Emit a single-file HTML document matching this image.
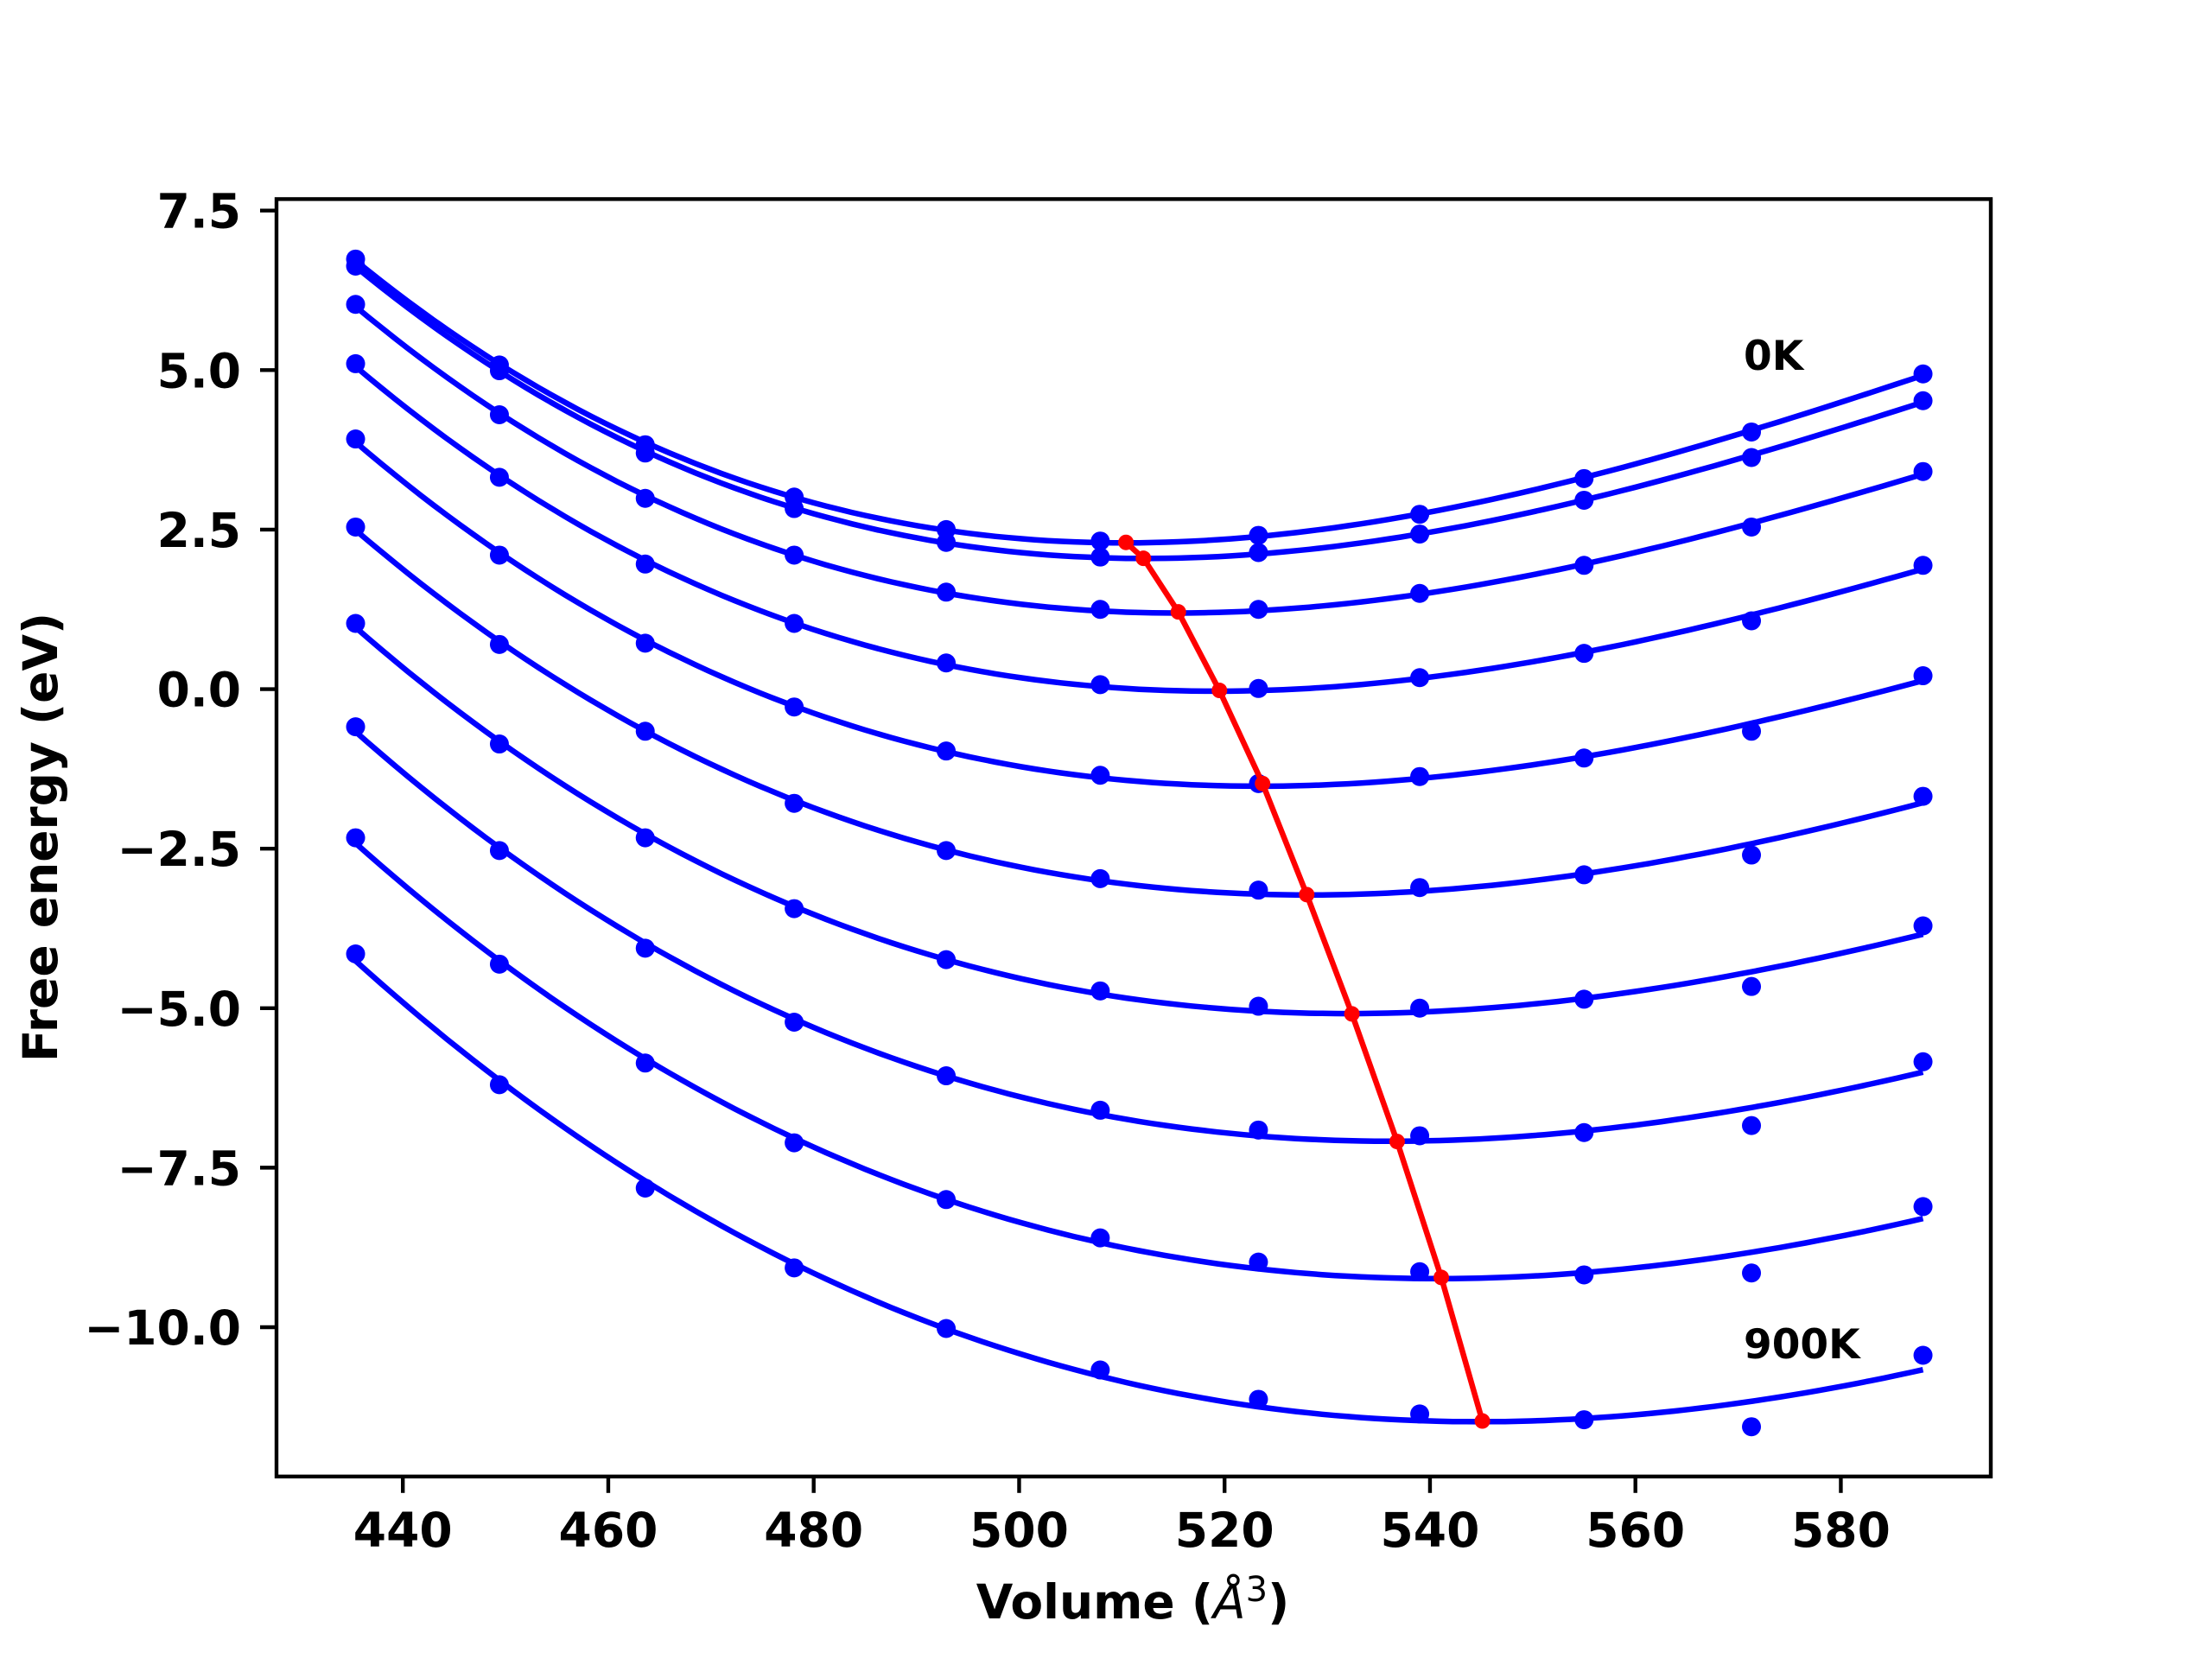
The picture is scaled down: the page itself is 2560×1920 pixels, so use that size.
<!DOCTYPE html>
<html><head><meta charset="utf-8"><style>
html,body{margin:0;padding:0;background:#fff;}
svg{display:block;}
text{font-family:"DejaVu Sans","Liberation Sans",sans-serif;font-weight:bold;fill:#000;}
</style></head><body>
<svg id="chart" width="2560" height="1920" viewBox="0 0 2560 1920" xmlns="http://www.w3.org/2000/svg">
<g id="plot"></g>
</svg>
<script>
const volumes = [435.4, 449.4, 463.6, 478.1, 492.9, 507.9, 523.3, 539.0, 555.0, 571.3, 588.0];
const energy0 = [6.74, 5.08, 3.83, 3.01, 2.50, 2.32, 2.41, 2.74, 3.30, 4.03, 4.94];
const energy1 = [6.63, 4.99, 3.70, 2.83, 2.30, 2.07, 2.14, 2.43, 2.96, 3.63, 4.52];
const energy2 = [6.03, 4.30, 2.99, 2.10, 1.52, 1.25, 1.25, 1.50, 1.94, 2.54, 3.41];
const energy3 = [5.10, 3.32, 1.96, 1.03, 0.41, 0.07, 0.01, 0.18, 0.56, 1.07, 1.94];
const energy4 = [3.92, 2.10, 0.72, -0.28, -0.97, -1.35, -1.48, -1.37, -1.08, -0.66, 0.21];
const energy5 = [2.54, 0.70, -0.66, -1.79, -2.53, -2.97, -3.15, -3.11, -2.91, -2.60, -1.68];
const energy6 = [1.03, -0.86, -2.33, -3.44, -4.24, -4.73, -4.97, -5.00, -4.86, -4.66, -3.71];
const energy7 = [-0.59, -2.53, -4.06, -5.22, -6.06, -6.60, -6.91, -7.00, -6.95, -6.84, -5.84];
const energy8 = [-2.33, -4.31, -5.86, -7.11, -8.00, -8.60, -8.98, -9.13, -9.18, -9.15, -8.11];
const energy9 = [-4.15, -6.20, -7.82, -9.07, -10.02, -10.67, -11.13, -11.36, -11.45, -11.56, -10.44];
const minVolumes = [510.4, 512.1, 515.5, 519.5, 523.7, 528.0, 532.4, 536.8, 541.1, 545.1];
const minEnergies = [2.30, 2.05, 1.21, -0.02, -1.48, -3.22, -5.09, -7.09, -9.22, -11.47];
const xTicks = [440, 460, 480, 500, 520, 540, 560, 580];
const yTicks = [7.5, 5.0, 2.5, 0.0, -2.5, -5.0, -7.5, -10.0];
const yTickLabels = ["7.5", "5.0", "2.5", "0.0", "\u22122.5", "\u22125.0", "\u22127.5", "\u221210.0"];

const series = [energy0, energy1, energy2, energy3, energy4, energy5, energy6, energy7, energy8, energy9];
const L = 320, R = 2304, T = 230.4, B = 1708.8;
const xMin = 427.7, xMax = 594.6, yMin = -12.34, yMax = 7.68;
const sx = v => L + (v - xMin) / (xMax - xMin) * (R - L);
const sy = v => B - (v - yMin) / (yMax - yMin) * (B - T);
const NS = "http://www.w3.org/2000/svg";
const plot = document.getElementById('plot');
function mk(tag, attrs, parent) {
  const e = document.createElementNS(NS, tag);
  for (const k in attrs) e.setAttribute(k, attrs[k]);
  (parent || plot).appendChild(e);
  return e;
}
// cubic least squares fit
function fit(xs, ys) {
  const x0 = 510, n = 4;
  const A = [], b = [];
  for (let i = 0; i < n; i++) { A.push(new Array(n).fill(0)); b.push(0); }
  xs.forEach((x, k) => {
    const t = (x - x0) / 50;
    const p = [1, t, t * t, t * t * t];
    for (let i = 0; i < n; i++) { b[i] += p[i] * ys[k]; for (let j = 0; j < n; j++) A[i][j] += p[i] * p[j]; }
  });
  for (let i = 0; i < n; i++) {
    let m = i; for (let r = i + 1; r < n; r++) if (Math.abs(A[r][i]) > Math.abs(A[m][i])) m = r;
    [A[i], A[m]] = [A[m], A[i]]; [b[i], b[m]] = [b[m], b[i]];
    for (let r = 0; r < n; r++) if (r !== i) { const f = A[r][i] / A[i][i]; for (let c = i; c < n; c++) A[r][c] -= f * A[i][c]; b[r] -= f * b[i]; }
  }
  const c = b.map((v, i) => v / A[i][i]);
  return x => { const t = (x - x0) / 50; return c[0] + c[1] * t + c[2] * t * t + c[3] * t * t * t; };
}
const clip = mk('clipPath', {id: 'clip'});
mk('rect', {x: L, y: T, width: R - L, height: B - T}, clip);
const g = mk('g', {'clip-path': 'url(#clip)'});


series.forEach((ys, si) => {
  const f = fit(volumes, ys);
  let d = '';
  const a = volumes[0], z = volumes[volumes.length - 1];
  for (let i = 0; i <= 120; i++) { const v = a + (z - a) * i / 120; d += (i ? 'L' : 'M') + sx(v).toFixed(1) + ',' + sy(f(v)).toFixed(1); }
  const p = mk('path', {d: d, fill: 'none', stroke: '#0000ff', 'stroke-width': 6.5}, g);
  
  
  ys.forEach((y, i) => {
    const c = mk('circle', {cx: sx(volumes[i]), cy: sy(y), r: 11, fill: '#0000ff'}, g);
    
    
  });
});
let rd = '';
minVolumes.forEach((v, i) => { rd += (i ? 'L' : 'M') + sx(v) + ',' + sy(minEnergies[i]); });
const red = mk('path', {d: rd, fill: 'none', stroke: '#ff0000', 'stroke-width': 6.5}, g);


minVolumes.forEach((v, i) => {
  const c = mk('circle', {cx: sx(v), cy: sy(minEnergies[i]), r: 9, fill: '#ff0000'}, g);
  
  
});
const frame = mk('rect', {x: L, y: T, width: R - L, height: B - T, fill: 'none', stroke: '#000', 'stroke-width': 4.4});


xTicks.forEach(v => {
  const x = sx(v);
  const t = mk('line', {x1: x, x2: x, y1: B, y2: B + 19, stroke: '#000', 'stroke-width': 4.4});
  
  
  const tx = mk('text', {x: x, y: 1790, 'text-anchor': 'middle', 'font-size': 55});
  tx.textContent = String(v);
  
  
});
yTicks.forEach((v, i) => {
  const y = sy(v);
  const t = mk('line', {x1: L - 19, x2: L, y1: y, y2: y, stroke: '#000', 'stroke-width': 4.4});
  
  
  const tx = mk('text', {x: 279, y: y + 20, 'text-anchor': 'end', 'font-size': 55});
  tx.textContent = yTickLabels[i];
  
  
});
const xl = mk('text', {x: 1311, y: 1873, 'text-anchor': 'middle', 'font-size': 55});
xl.innerHTML = 'Volume (<tspan font-style="italic" font-weight="normal">Å</tspan><tspan dy="-20" font-size="40" font-weight="normal">3</tspan><tspan dy="20">)</tspan>';


const yl = mk('text', {x: 0, y: 0, 'text-anchor': 'middle', 'font-size': 55, transform: 'translate(66,969) rotate(-90)'});
yl.textContent = 'Free energy (eV)';


const a0 = mk('text', {x: 2018, y: 428, 'font-size': 47});
a0.textContent = '0K';


const a9 = mk('text', {x: 2018, y: 1572, 'font-size': 47});
a9.textContent = '900K';


</script>
</body></html>
